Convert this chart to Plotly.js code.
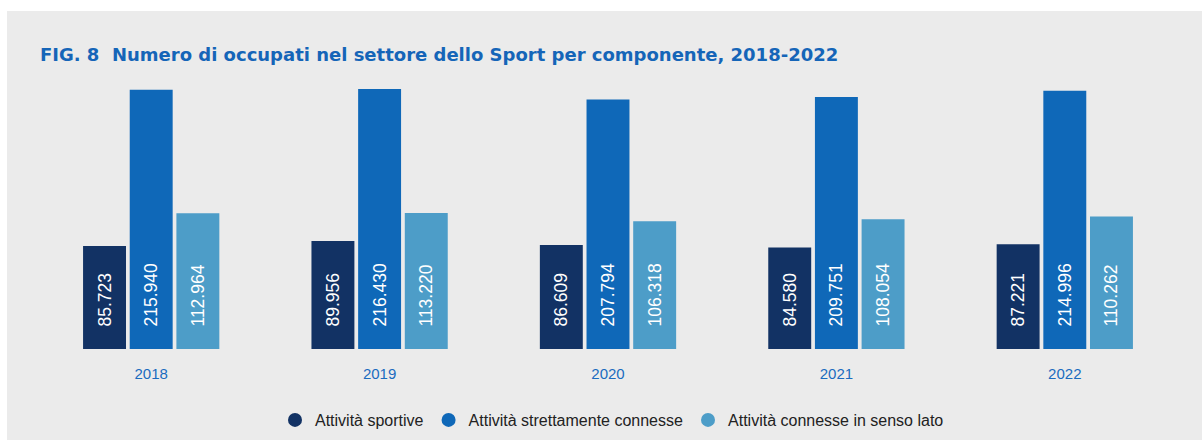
<!DOCTYPE html>
<html>
<head>
<meta charset="utf-8">
<script src="https://cdn.plot.ly/plotly-3.0.1.min.js"></script>
<style>
  html, body { margin: 0; padding: 0; background: #ffffff; }
  #chart { position: absolute; left: 7px; top: 11px; width: 1195px; height: 429px; }
</style>
</head>
<body>
<div id="chart"></div>
<script>
// Data
const years = ['2018', '2019', '2020', '2021', '2022'];
const sportive = [85723, 89956, 86609, 84580, 87221];
const strettamente = [215940, 216430, 207794, 209751, 214996];
const sensoLato = [112964, 113220, 106318, 108054, 110262];

const seriesNames = ['Attività sportive', 'Attività strettamente connesse', 'Attività connesse in senso lato'];
const seriesColors = ['#123264', '#0f68b8', '#4d9dc8'];

const W = 1195;
const H = 429;

const makeBars = (values, i) => ({
  type: 'bar',
  x: years,
  y: values,
  name: seriesNames[i],
  showlegend: false,
  marker: {color: seriesColors[i]},
  texttemplate: '\u00a0\u00a0\u00a0\u00a0%{y:,}',
  textposition: 'inside',
  insidetextanchor: 'start',
  textangle: -90,
  constraintext: 'none',
  textfont: {family: 'Liberation Sans, Arial, sans-serif', size: 17.5, color: '#ffffff'},
  hoverinfo: 'skip',
});

// circle markers for the legend only
const makeLegendEntry = i => ({
  type: 'scatter',
  mode: 'markers',
  x: [null],
  y: [null],
  name: seriesNames[i],
  marker: {color: seriesColors[i], size: 14, symbol: 'circle'},
  hoverinfo: 'skip',
});

const data = [
  makeBars(sportive, 0),
  makeBars(strettamente, 1),
  makeBars(sensoLato, 2),
  makeLegendEntry(0),
  makeLegendEntry(1),
  makeLegendEntry(2),
];

const layout = {
  width: W,
  height: H,
  paper_bgcolor: '#ebebeb',
  plot_bgcolor: '#ebebeb',
  separators: ',.',
  margin: {l: 30, r: 23, t: 69, b: 91},
  barmode: 'group',
  bargap: 0.387,
  bargroupgap: 0.08,
  title: {
    text: 'FIG. 8\u00a0 Numero di occupati nel settore dello Sport per componente, 2018-2022',
    font: {family: 'DejaVu Sans, sans-serif', size: 18, color: '#1565b8', weight: 'bold'},
    xref: 'container',
    yref: 'container',
    x: 33 / W,
    xanchor: 'left',
    y: 1 - 44 / H,
    yanchor: 'middle',
  },
  xaxis: {
    type: 'category',
    showgrid: false,
    zeroline: false,
    showline: false,
    ticks: 'outside',
    ticklen: 11,
    tickcolor: 'rgba(0,0,0,0)',
    tickfont: {family: 'Liberation Sans, Arial, sans-serif', size: 15, color: '#1a6bbf'},
  },
  yaxis: {
    visible: false,
    range: [0, 224000],
    showgrid: false,
    zeroline: false,
  },
  showlegend: true,
  legend: {
    orientation: 'h',
    xref: 'container',
    yref: 'container',
    x: 605 / W,
    xanchor: 'center',
    y: 1 - 409 / H,
    yanchor: 'middle',
    bgcolor: 'rgba(0,0,0,0)',
    font: {family: 'Liberation Sans, Arial, sans-serif', size: 16, color: '#222222'},
  },
};

Plotly.newPlot('chart', data, layout, {displayModeBar: false, staticPlot: true});
</script>
</body>
</html>
